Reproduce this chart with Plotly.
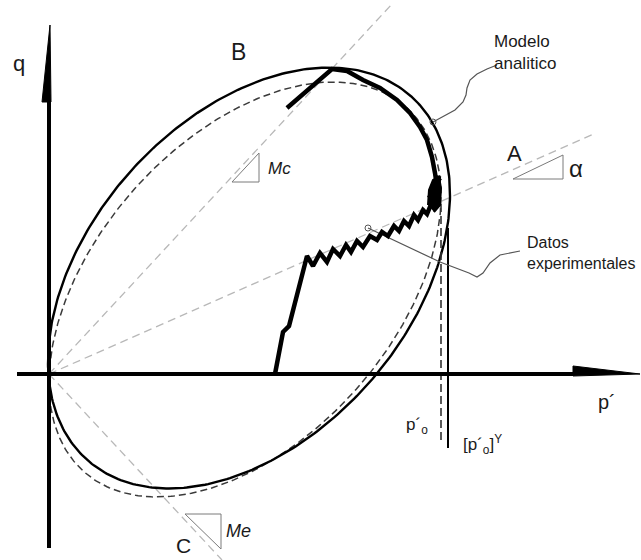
import numpy as np
import plotly.graph_objects as go

# ---- Yield surfaces in the p'-q plane (tilted ellipses through the origin) ----
# centre (p', q), semi-axes (major, minor), tilt of major axis in degrees
model_center = [200, 96]
model_axes = [243.5, 159.4]
model_tilt = 48.3

alt_center = [196, 84.5]
alt_axes = [243.2, 149.4]
alt_tilt = 48.6

# ---- Experimental stress path (p', q) ----
exp_p = [226, 234, 240, 258, 264, 271, 278, 284, 291, 297, 302, 308, 314, 321, 328,
         333, 339, 345, 350, 355, 360, 365, 369, 374, 378, 382,
         388, 380, 389, 381, 391, 384, 390,
         388, 386, 383, 378, 371, 361, 348, 331, 314, 298, 283, 238]
exp_q = [0, 42, 48, 118, 108, 121, 112, 125, 118, 129, 122, 133, 127, 138, 134,
         142, 138, 148, 143, 153, 148, 159, 154, 164, 160, 170,
         184, 176, 191, 181, 196, 186, 198,
         187, 201, 217, 234, 247, 261, 274, 286, 294, 303, 305, 266]
# dense scatter of the path near the apex of the stress path
blob_p = [379, 380, 384, 390, 392, 391, 385]
blob_q = [169, 184, 194, 197, 186, 169, 162]

# ---- Reference lines through the origin: slopes (Mc, A, Me) and end points ----
mc_line = ([0, 343], [0, 370])
a_line = ([0, 547], [0, 241])
me_line = ([0, 173], [0, -186])

# ---- Pre-consolidation markers ----
p0_x, p0_q = 392, [170, -68]      # p'o (dashed)
p0y_x, p0y_q = 399, [146, -74]    # [p'o]^Y (solid)

# ---- Axes ----
q_axis = ([0, 0], [-174, 272])
q_head = ([1, -7, 2, 1], [349, 272, 272, 349])
p_axis = ([-32, 524], [0, 0])
p_head = ([591, 524, 524, 591], [0, 8, -2, 0])

# ---- Slope triangles ----
tri_mc = ([183, 210, 210, 183], [192, 221, 192, 192])
tri_alpha = ([464, 514, 514, 464], [195, 219, 195, 195])
tri_me = ([136, 172, 172, 136], [-140, -140, -175, -140])

# ---- Leader lines for the callouts ----
lead_model_p = [384, 406, 414, 417, 418, 421, 428, 438, 448]
lead_model_q = [252, 264, 272, 279, 286, 294, 300, 305, 309]
lead_data_p = [319, 351, 391, 420, 428, 434, 441, 451, 471]
lead_data_q = [146, 131, 112, 101, 97, 101, 111, 119, 123]


def ellipse(center, axes, tilt_deg, n=400):
    t = np.linspace(0, 2 * np.pi, n)
    th = np.radians(tilt_deg)
    a, b = axes
    x = center[0] + a * np.cos(th) * np.cos(t) - b * np.sin(th) * np.sin(t)
    y = center[1] + a * np.sin(th) * np.cos(t) + b * np.cos(th) * np.sin(t)
    return x, y


fig = go.Figure()


def line(x, y, color="black", width=1.0, dash="solid", **kw):
    fig.add_trace(go.Scatter(x=x, y=y, mode="lines",
                             line=dict(color=color, width=width, dash=dash),
                             hoverinfo="skip", showlegend=False, **kw))


grey = "#b8b8b8"
for ln in (mc_line, a_line, me_line):
    line(ln[0], ln[1], grey, 1.3, "8px,5px")

for tri in (tri_mc, tri_alpha, tri_me):
    line(tri[0], tri[1], "#7a7a7a", 1.0)

ex, ey = ellipse(alt_center, alt_axes, alt_tilt)
line(ex, ey, "#3a3a3a", 1.5, "7px,4px")
ex, ey = ellipse(model_center, model_axes, model_tilt)
line(ex, ey, "black", 2.4)

line([p0_x, p0_x], p0_q, "#333333", 1.6, "8px,4px")
line([p0y_x, p0y_x], p0y_q, "black", 2.0)

line(lead_model_p, lead_model_q, "#555555", 1.2)
line(lead_data_p, lead_data_q, "#555555", 1.2)
fig.add_trace(go.Scatter(x=[lead_model_p[0], lead_data_p[0]],
                         y=[lead_model_q[0], lead_data_q[0]], mode="markers",
                         marker=dict(size=6, color="rgba(0,0,0,0)",
                                     line=dict(color="#555555", width=1)),
                         hoverinfo="skip", showlegend=False))

fig.add_trace(go.Scatter(x=blob_p, y=blob_q, mode="lines", fill="toself",
                         fillcolor="black", line=dict(color="black", width=2),
                         hoverinfo="skip", showlegend=False))
line(exp_p, exp_q, "black", 4.5)

line(q_axis[0], q_axis[1], "black", 4)
line(p_axis[0], p_axis[1], "black", 4)
for head in (q_head, p_head):
    fig.add_trace(go.Scatter(x=head[0], y=head[1], mode="lines", fill="toself",
                             fillcolor="black", line=dict(color="black", width=1),
                             hoverinfo="skip", showlegend=False))

font = "Arial"
labels = [
    ("q", -30, 311, 22, "center", "middle"),
    ("B", 189, 322, 23, "center", "middle"),
    ("A", 465, 221, 22, "center", "middle"),
    ("C", 134, -171, 21, "center", "middle"),
    ("α", 527, 206, 24, "center", "middle"),
    ("<i>Mc</i>", 217, 206, 17, "left", "middle"),
    ("<i>Me</i>", 175, -157, 18, "left", "middle"),
    ("p´", 547, -28, 20, "left", "middle"),
    ("p´<sub>o</sub>", 355, -52, 17, "left", "middle"),
    ("[p´<sub>o</sub>]<sup>Y</sup>", 412, -70, 17, "left", "middle"),
    ("Modelo<br>analitico", 443, 322, 17, "left", "middle"),
    ("Datos<br>experimentales", 476, 121, 16, "left", "middle"),
]
for txt, x, y, size, xa, ya in labels:
    fig.add_annotation(x=x, y=y, xref="x", yref="y", text=txt, showarrow=False,
                       xanchor=xa, yanchor=ya, align="left",
                       font=dict(family=font, size=size, color="#1a1a1a"))

fig.update_layout(
    width=641, height=560, margin=dict(l=0, r=0, t=0, b=0),
    paper_bgcolor="white", plot_bgcolor="white",
    xaxis=dict(range=[-49, 592], visible=False, fixedrange=True),
    yaxis=dict(range=[-186, 374], visible=False, fixedrange=True),
)

fig.write_html("out.html")
